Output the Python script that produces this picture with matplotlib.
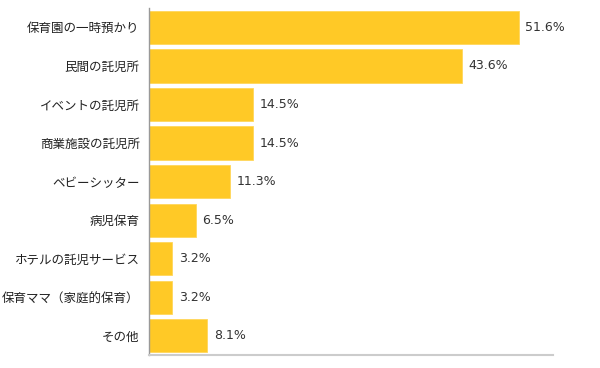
import matplotlib.pyplot as plt

plt.rcParams['font.family'] = ['Noto Sans CJK JP', 'DejaVu Sans']

categories = ["保育園の一時預かり", "民間の託児所", "イベントの託児所", "商業施設の託児所",
              "ベビーシッター", "病児保育", "ホテルの託児サービス", "保育ママ（家庭的保育）", "その他"]
values = [51.6, 43.6, 14.5, 14.5, 11.3, 6.5, 3.2, 3.2, 8.1]

BAR_COLOR = '#FFC926'

fig = plt.figure(figsize=(6.0, 3.68), dpi=100)
ax = fig.add_axes([0.249, 0.035, 0.672, 0.943])

y = list(range(len(categories)))
ax.barh(y, values, height=0.86, color=BAR_COLOR, edgecolor='#FFD75A', linewidth=0.6)

# value labels, wider latin font like the original
for yi, v in zip(y, values):
    ax.text(v + 0.9, yi, "%.1f%%" % v, va='center', ha='left', fontsize=9,
            color='#333333', family=['DejaVu Sans'])

ax.set_xlim(0, 56.3)
ax.set_ylim(8.5, -0.5)
ax.set_yticks(y)
ax.set_yticklabels(categories, fontsize=9, color='#222222')
ax.set_xticks([])
ax.tick_params(axis='y', length=0, pad=7)

for side in ['top', 'right']:
    ax.spines[side].set_visible(False)
ax.spines['left'].set_color('#999999')
ax.spines['left'].set_linewidth(1)
ax.spines['bottom'].set_color('#cccccc')
ax.spines['bottom'].set_linewidth(1.5)

plt.savefig("out.png", dpi=100)
